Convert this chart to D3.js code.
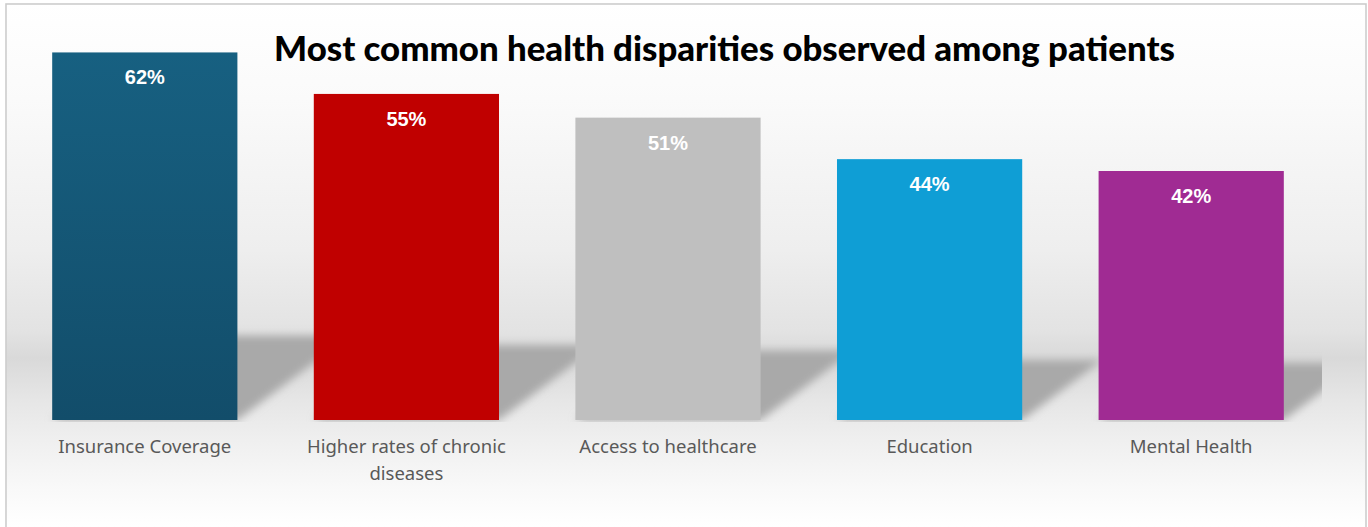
<!DOCTYPE html>
<html>
<head>
<meta charset="utf-8">
<script src="https://cdn.jsdelivr.net/npm/d3@7"></script>
<style>
  html, body { margin: 0; padding: 0; background: #fff; }
  svg { display: block; }
  .bar-label { font-family: "Liberation Sans", Arial, sans-serif; font-weight: bold; fill: #fff; }
  .cat-label { font-family: "Noto Sans", sans-serif; fill: #595959; }
  .title { font-family: Lato, "Noto Sans", sans-serif; font-weight: 900; fill: #000; }
</style>
</head>
<body>
<svg width="1368" height="527"></svg>
<script>
var categories = ["Insurance Coverage", "Higher rates of chronic diseases", "Access to healthcare", "Education", "Mental Health"];
var values = [62, 55, 51, 44, 42];
var colors = ["#165f80", "#c00000", "#bfbfbf", "#0f9ed5", "#a02b93"];
var titleText = "Most common health disparities observed among patients";

var svg = d3.select("svg"),
    width = 1368,
    height = 527,
    baseY = 420;

var defs = svg.append("defs");

// background of the chart area: light vertical fade with a grey "floor" band
var bg = defs.append("linearGradient").attr("id", "bg")
  .attr("gradientUnits", "userSpaceOnUse")
  .attr("x1", 0).attr("y1", 3).attr("x2", 0).attr("y2", height);
[[3, "#ffffff"], [100, "#fafafa"], [250, "#eeeeee"], [330, "#e3e3e3"], [358, "#d9d9d9"],
 [400, "#e6e6e6"], [440, "#efefef"], [490, "#f9f9f9"], [527, "#ffffff"]].forEach(function(s) {
  bg.append("stop").attr("offset", (s[0] - 3) / (height - 3)).attr("stop-color", s[1]);
});

var barGrad = defs.append("linearGradient").attr("id", "bar0")
  .attr("x1", 0).attr("y1", 0).attr("x2", 0).attr("y2", 1);
barGrad.append("stop").attr("offset", 0).attr("stop-color", "#176081");
barGrad.append("stop").attr("offset", 1).attr("stop-color", "#124d6a");

defs.append("filter").attr("id", "blur")
  .attr("x", "-20%").attr("y", "-20%").attr("width", "140%").attr("height", "140%")
  .append("feGaussianBlur").attr("stdDeviation", 4);

defs.append("clipPath").attr("id", "plotclip")
  .append("rect").attr("x", 14).attr("y", 0).attr("width", 1308).attr("height", baseY + 2);

svg.append("rect")
  .attr("x", 6).attr("y", 4).attr("width", 1360).attr("height", 540)
  .attr("fill", "url(#bg)")
  .attr("stroke", "#cdcdcd").attr("stroke-width", 1.6);

var x = d3.scaleBand()
  .domain(categories)
  .range([14, 1322])
  .paddingInner(0.292)
  .paddingOuter(0.146);

var y = d3.scaleLinear()
  .domain([0, 70])
  .range([baseY, 5]);

var data = categories.map(function(c, i) { return { cat: c, value: values[i], color: colors[i], i: i }; });

// cast shadows behind the bars
var shadowK = 0.23, slope = 0.75;
svg.append("g").attr("clip-path", "url(#plotclip)")
  .append("g").attr("filter", "url(#blur)")
  .selectAll("path").data(data).enter().append("path")
  .attr("fill", "#a9a9a9")
  .attr("d", function(d) {
    var x0 = x(d.cat), x1 = x0 + x.bandwidth();
    var h = (baseY - y(d.value)) * shadowK, s = h / slope;
    return "M" + x0 + "," + baseY + "L" + x1 + "," + baseY +
      "L" + (x1 + s) + "," + (baseY - h) + "L" + (x0 + s) + "," + (baseY - h) + "Z";
  });

var bars = svg.append("g").selectAll("g").data(data).enter().append("g");

bars.append("rect")
  .attr("x", function(d) { return x(d.cat); })
  .attr("y", function(d) { return y(d.value); })
  .attr("width", x.bandwidth())
  .attr("height", function(d) { return baseY - y(d.value); })
  .attr("fill", function(d) { return d.i === 0 ? "url(#bar0)" : d.color; });

bars.append("text")
  .attr("class", "bar-label")
  .attr("x", function(d) { return x(d.cat) + x.bandwidth() / 2; })
  .attr("y", function(d) { return y(d.value) + 32; })
  .attr("text-anchor", "middle")
  .attr("font-size", 20)
  .text(function(d) { return d.value + "%"; });

// category labels, wrapped when wider than the band step
var maxW = x.step() * 0.85;
var cats = svg.append("g").selectAll("text").data(data).enter().append("text")
  .attr("class", "cat-label")
  .attr("font-size", 18.5)
  .attr("text-anchor", "middle")
  .attr("x", function(d) { return x(d.cat) + x.bandwidth() / 2; })
  .attr("y", 453);

cats.each(function(d) {
  var el = d3.select(this), words = d.cat.split(" "), line = [], lineNo = 0;
  var ts = el.append("tspan").attr("x", el.attr("x")).attr("dy", 0);
  words.forEach(function(w) {
    line.push(w);
    ts.text(line.join(" "));
    if (ts.node().getComputedTextLength() > maxW && line.length > 1) {
      line.pop();
      ts.text(line.join(" "));
      line = [w];
      lineNo++;
      ts = el.append("tspan").attr("x", el.attr("x")).attr("dy", 27).text(w);
    }
  });
});

var title = svg.append("text")
  .attr("class", "title")
  .attr("x", 724.5)
  .attr("y", 61)
  .attr("text-anchor", "middle")
  .attr("font-size", 27)
  .text(titleText);
var tw = title.node().getComputedTextLength();
title.attr("font-size", 27 * 901 / tw);
</script>
</body>
</html>
